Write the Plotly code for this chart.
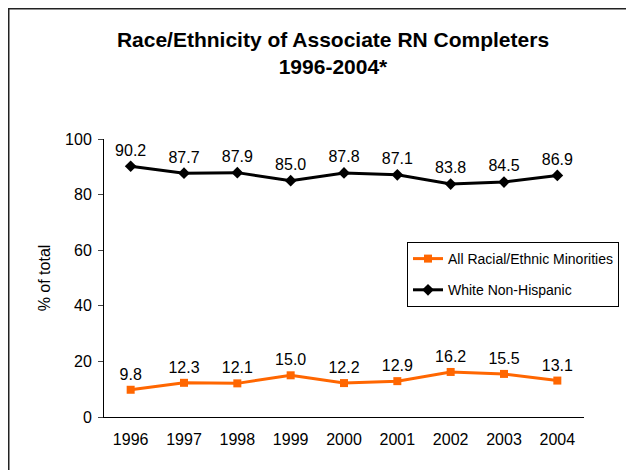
import plotly.graph_objects as go

years = ["1996", "1997", "1998", "1999", "2000", "2001", "2002", "2003", "2004"]
minorities = [9.8, 12.3, 12.1, 15.0, 12.2, 12.9, 16.2, 15.5, 13.1]
white = [90.2, 87.7, 87.9, 85.0, 87.8, 87.1, 83.8, 84.5, 86.9]
y_ticks = [0, 20, 40, 60, 80, 100]

FONT = "Arial, Liberation Sans, sans-serif"

W, H = 626, 462
L, R, T, B = 96, 50, 131, 53
PW = W - L - R
PH = H - T - B


def px(x):
    return (x - L) / PW


def py(y):
    return (H - B - y) / PH


fig = go.Figure()
fig.add_trace(go.Scatter(
    x=years, y=minorities, name="All Racial/Ethnic Minorities",
    legendgroup="a",
    mode="lines+markers+text", text=[f"{v:.1f}" for v in minorities],
    textposition="top center", textfont=dict(size=16, color="black", family=FONT),
    line=dict(color="#FF6600", width=3),
    marker=dict(symbol="square", size=8, color="#FF6600"),
    cliponaxis=False,
))
fig.add_trace(go.Scatter(
    x=years, y=white, name="White Non-Hispanic",
    legendgroup="b",
    mode="lines+markers+text", text=[f"{v:.1f}" for v in white],
    textposition="top center", textfont=dict(size=16, color="black", family=FONT),
    line=dict(color="black", width=3),
    marker=dict(symbol="diamond", size=9, color="black"),
    cliponaxis=False,
))

fig.update_layout(
    width=W, height=H,
    margin=dict(l=L, r=R, t=T, b=B),
    paper_bgcolor="white", plot_bgcolor="white",
    font=dict(family=FONT, color="black", size=16),
    title=dict(
        text="<b>Race/Ethnicity of Associate RN Completers<br>1996-2004*</b>",
        x=325 / W, xanchor="center", y=1 - 39 / H, yanchor="top",
        font=dict(size=21, family=FONT, color="black"),
    ),
    showlegend=True,
    legend=dict(
        x=px(399), y=py(234), xanchor="left", yanchor="top",
        bordercolor="black", borderwidth=1, bgcolor="white",
        font=dict(size=14, family=FONT, color="black"),
        tracegroupgap=10,
    ),
    xaxis=dict(
        type="category", showline=True, linecolor="black", linewidth=1,
        ticks="", showgrid=False, zeroline=False,
        tickfont=dict(size=16), range=[-0.5, 8.5], ticklabelstandoff=8,
    ),
    yaxis=dict(
        range=[0, 100], tickvals=y_ticks, showline=True, linecolor="black",
        linewidth=1, ticks="outside", ticklen=5, showgrid=False, zeroline=False,
        tickfont=dict(size=16), ticklabelstandoff=3,
        title=dict(text="% of total", font=dict(size=16), standoff=10),
    ),
    shapes=[dict(
        type="rect", xref="paper", yref="paper",
        x0=px(0), x1=px(W + 20), y0=py(H + 20), y1=py(0),
        line=dict(color="#222222", width=3), fillcolor="rgba(0,0,0,0)",
        layer="below",
    )],
)

fig.write_html("out.html")
